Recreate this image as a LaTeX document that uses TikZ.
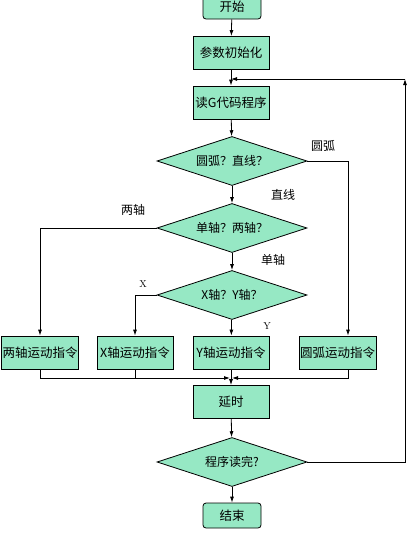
\documentclass[tikz,border=0pt]{standalone}
\usepackage{fontspec}
\newfontfamily\cjk{Noto Sans CJK SC}
\usetikzlibrary{shapes.geometric,arrows.meta}
\definecolor{flowfill}{RGB}{150,232,196}
\tikzset{
  box/.style={draw,fill=flowfill,minimum width=76pt,minimum height=33pt,inner sep=1pt,font=\cjk\fontsize{12.5}{14}\selectfont},
  term/.style={box,rounded corners=3pt,minimum width=58pt,minimum height=25pt},
  decide/.style={draw,fill=flowfill,diamond,aspect=3.1,minimum width=150pt,minimum height=49pt,inner sep=0pt,font=\cjk\fontsize{12}{14}\selectfont},
  tag/.style={inner sep=1pt,font=\cjk\fontsize{12}{14}\selectfont},
  flow/.style={-{Latex[length=6pt,width=4pt]}}
}
\begin{document}
\begin{tikzpicture}[x=1pt,y=-1pt,line width=0.8pt]
  \useasboundingbox (0,0) rectangle (414,536);
  \node[term] (start) at (232,6.5) {开始};
  \node[box] (init) at (231,53) {参数初始化};
  \node[box] (read) at (231,102.5) {读G代码程序};
  \node[decide] (arcq) at (232,161) {圆弧？直线？};
  \node[decide] (axisq) at (232,228) {单轴？两轴？};
  \node[decide] (xyq) at (232,295) {X轴？Y轴？};
  \node[box] (two) at (40,352.5) {两轴运动指令};
  \node[box] (xmove) at (135,352.5) {X轴运动指令};
  \node[box] (ymove) at (231,352.5) {Y轴运动指令};
  \node[box] (arcmove) at (337.5,352.5) {圆弧运动指令};
  \node[box] (delay) at (231,402) {延时};
  \node[decide] (doneq) at (232,462) {程序读完?};
  \node[term] (stop) at (232,515.5) {结束};
  \coordinate (loop) at (231,79);
  \coordinate (corner) at (405,79);
  \coordinate (merge) at (231,378);
  % labels
  \node[tag] (larc) at (323,146) {圆弧};
  \node[tag] (lline) at (283,195) {直线};
  \node[tag] (ltwo) at (133,210) {两轴};
  \node[tag] (lone) at (273,260) {单轴};
  \node[tag,font=\fontsize{10}{12}\selectfont] (lx) at (143,284) {X};
  \node[tag,font=\fontsize{10}{12}\selectfont] (ly) at (267,326) {Y};
  % main line
  \draw[flow] (start) -- (init);
  \draw[flow] (init) -- (read);
  \draw[flow] (read) -- (arcq);
  \draw[flow] (arcq) -- (axisq);
  \draw[flow] (axisq) -- (xyq);
  \draw[flow] (xyq) -- (ymove);
  \draw[flow] (arcq.east) -| ([xshift=10.5pt]arcmove.north);
  \draw[flow] (axisq.west) -| (two.north);
  \draw[flow] (xyq.west) -| (xmove.north);
  % merge
  \draw[flow] (two.south) |- ([xshift=-1pt]merge);
  \draw[flow] ([xshift=10.5pt]arcmove.south) |- ([xshift=1pt]merge);
  \draw (xmove.south) -- (xmove.south |- merge);
  \draw (ymove.south) -- (merge);
  \draw[flow] (merge) -- (delay);
  \draw[flow] (delay) -- (doneq);
  \draw[flow] (doneq) -- (stop);
  % back to read
  \draw[flow] (doneq.east) -| (corner);
  \draw[flow] (corner) -- (loop);
\end{tikzpicture}
\end{document}
